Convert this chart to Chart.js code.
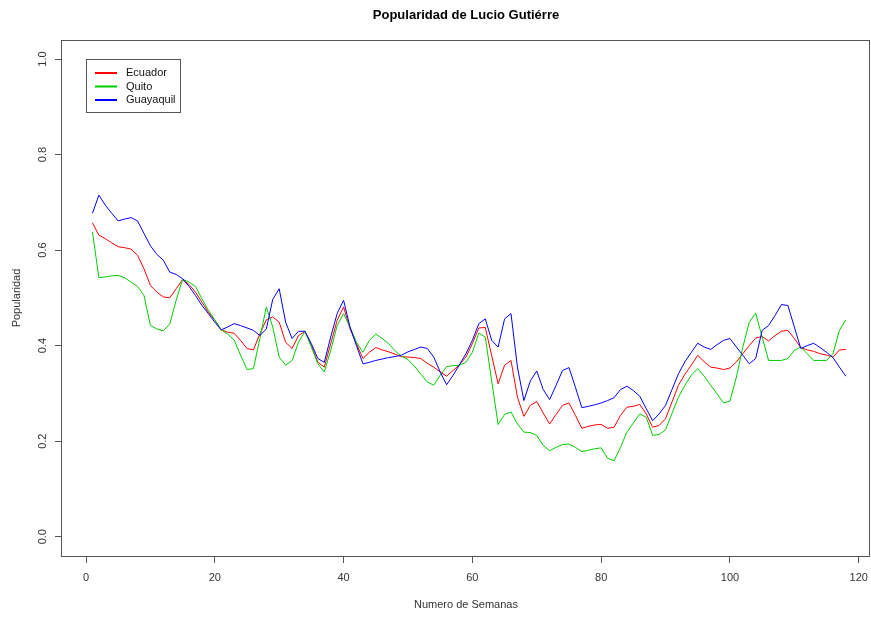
<!DOCTYPE html>
<html>
<head>
<meta charset="utf-8">
<title>Popularidad de Lucio Gutiérre</title>
<script src="https://cdn.jsdelivr.net/npm/chart.js@4.4.1/dist/chart.umd.min.js"></script>
<style>
  html, body { margin: 0; padding: 0; background: #fff; }
  #grafico { display: block; }
</style>
</head>
<body>
<canvas id="grafico" width="871" height="617"></canvas>
<script>
const titulo = 'Popularidad de Lucio Gutiérre';
const tituloX = 'Numero de Semanas';
const tituloY = 'Popularidad';

const semanas = [
  1, 2, 3, 4, 5, 6, 7, 8, 9, 10, 11, 12, 13, 14, 15, 16, 17, 18, 19, 20,
  21, 22, 23, 24, 25, 26, 27, 28, 29, 30, 31, 32, 33, 34, 35, 36, 37, 38, 39, 40,
  41, 42, 43, 44, 45, 46, 47, 48, 49, 50, 51, 52, 53, 54, 55, 56, 57, 58, 59, 60,
  61, 62, 63, 64, 65, 66, 67, 68, 69, 70, 71, 72, 73, 74, 75, 76, 77, 78, 79, 80,
  81, 82, 83, 84, 85, 86, 87, 88, 89, 90, 91, 92, 93, 94, 95, 96, 97, 98, 99, 100,
  101, 102, 103, 104, 105, 106, 107, 108, 109, 110, 111, 112, 113, 114, 115, 116, 117, 118
];

const ecuador = [
  0.657, 0.631, 0.624, 0.615, 0.607, 0.605, 0.602, 0.589, 0.561, 0.526,
  0.512, 0.502, 0.500, 0.519, 0.538, 0.528, 0.512, 0.491, 0.470, 0.453,
  0.433, 0.428, 0.426, 0.411, 0.394, 0.391, 0.425, 0.454, 0.460, 0.449,
  0.407, 0.394, 0.421, 0.430, 0.400, 0.365, 0.355, 0.404, 0.453, 0.481,
  0.435, 0.404, 0.373, 0.386, 0.396, 0.391, 0.387, 0.382, 0.377, 0.376,
  0.375, 0.373, 0.363, 0.355, 0.345, 0.336, 0.348, 0.360, 0.376, 0.404,
  0.437, 0.438, 0.379, 0.320, 0.359, 0.369, 0.292, 0.252, 0.275, 0.283,
  0.259, 0.236, 0.256, 0.275, 0.280, 0.254, 0.227, 0.231, 0.234, 0.235,
  0.227, 0.229, 0.254, 0.271, 0.273, 0.277, 0.257, 0.229, 0.233, 0.247,
  0.282, 0.317, 0.340, 0.359, 0.380, 0.366, 0.355, 0.353, 0.350, 0.353,
  0.366, 0.383, 0.400, 0.416, 0.419, 0.410, 0.421, 0.430, 0.432, 0.415,
  0.396, 0.391, 0.388, 0.383, 0.380, 0.376, 0.391, 0.392
];

const quito = [
  0.638, 0.542, 0.544, 0.546, 0.547, 0.542, 0.533, 0.524, 0.505, 0.442,
  0.435, 0.431, 0.445, 0.495, 0.539, 0.533, 0.524, 0.498, 0.474, 0.454,
  0.433, 0.424, 0.412, 0.380, 0.350, 0.352, 0.415, 0.481, 0.439, 0.376,
  0.359, 0.369, 0.407, 0.430, 0.397, 0.362, 0.345, 0.390, 0.442, 0.467,
  0.439, 0.407, 0.386, 0.411, 0.424, 0.415, 0.404, 0.389, 0.378, 0.371,
  0.357, 0.340, 0.324, 0.317, 0.338, 0.356, 0.358, 0.359, 0.365, 0.386,
  0.426, 0.418, 0.326, 0.235, 0.256, 0.261, 0.236, 0.219, 0.218, 0.212,
  0.191, 0.180, 0.187, 0.193, 0.194, 0.187, 0.178, 0.181, 0.184, 0.186,
  0.164, 0.159, 0.187, 0.219, 0.238, 0.257, 0.250, 0.212, 0.214, 0.224,
  0.258, 0.292, 0.317, 0.338, 0.352, 0.336, 0.317, 0.299, 0.280, 0.284,
  0.334, 0.397, 0.449, 0.468, 0.418, 0.369, 0.369, 0.369, 0.373, 0.390,
  0.397, 0.383, 0.369, 0.369, 0.369, 0.383, 0.432, 0.454
];

const guayaquil = [
  0.677, 0.715, 0.694, 0.677, 0.661, 0.665, 0.668, 0.661, 0.635, 0.609,
  0.591, 0.579, 0.554, 0.549, 0.540, 0.524, 0.505, 0.484, 0.467, 0.449,
  0.433, 0.439, 0.446, 0.442, 0.437, 0.432, 0.421, 0.435, 0.497, 0.519,
  0.449, 0.415, 0.430, 0.430, 0.404, 0.373, 0.365, 0.418, 0.467, 0.495,
  0.439, 0.400, 0.362, 0.365, 0.369, 0.372, 0.375, 0.377, 0.380, 0.387,
  0.392, 0.397, 0.394, 0.376, 0.345, 0.318, 0.338, 0.360, 0.383, 0.411,
  0.446, 0.456, 0.411, 0.397, 0.456, 0.467, 0.355, 0.285, 0.326, 0.347,
  0.308, 0.287, 0.317, 0.348, 0.354, 0.313, 0.270, 0.273, 0.276, 0.280,
  0.285, 0.291, 0.308, 0.315, 0.306, 0.294, 0.268, 0.243, 0.257, 0.275,
  0.308, 0.341, 0.366, 0.386, 0.405, 0.397, 0.392, 0.402, 0.411, 0.415,
  0.397, 0.380, 0.362, 0.373, 0.432, 0.442, 0.463, 0.486, 0.484, 0.439,
  0.394, 0.400, 0.405, 0.396, 0.386, 0.375, 0.355, 0.336
];

const ticksX = [0, 20, 40, 60, 80, 100, 120];
const ticksY = [0, 0.2, 0.4, 0.6, 0.8, 1.0];

const fuente = '"Liberation Sans", Arial, sans-serif';
const gris = '#555555';

function puntos(valores) {
  return semanas.map((s, i) => ({ x: s, y: valores[i] }));
}

// caja, titulos y leyenda dibujados a mano, como en un plot() de R
const marcoR = {
  id: 'marcoR',
  afterDraw(chart) {
    const { ctx, chartArea: a } = chart;
    ctx.save();

    ctx.strokeStyle = gris;
    ctx.lineWidth = 1;
    ctx.strokeRect(a.left - 0.5, a.top + 0.5, a.right - a.left, a.bottom - a.top);

    ctx.fillStyle = '#000';
    ctx.font = 'bold 13px ' + fuente;
    ctx.textAlign = 'center';
    ctx.textBaseline = 'alphabetic';
    ctx.fillText(titulo, (a.left + a.right) / 2, 19);

    ctx.fillStyle = '#333';
    ctx.font = '11px ' + fuente;
    ctx.textBaseline = 'middle';
    ctx.fillText(tituloX, (a.left + a.right) / 2, 605);

    ctx.save();
    ctx.translate(17, (a.top + a.bottom) / 2);
    ctx.rotate(-Math.PI / 2);
    ctx.fillText(tituloY, 0, 0);
    ctx.restore();

    // leyenda
    const lx = 86, ly = 59;
    ctx.strokeStyle = gris;
    ctx.strokeRect(lx + 0.5, ly + 0.5, 94, 53);
    ctx.font = '11px ' + fuente;
    ctx.textAlign = 'left';
    chart.data.datasets.forEach((ds, i) => {
      const y = ly + 14 + i * 13.5;
      ctx.strokeStyle = ds.borderColor;
      ctx.lineWidth = 2;
      ctx.beginPath();
      ctx.moveTo(lx + 9, y);
      ctx.lineTo(lx + 31, y);
      ctx.stroke();
      ctx.fillStyle = '#111';
      ctx.fillText(ds.label, lx + 40, y);
    });

    ctx.restore();
  }
};

const ejes = (ticks) => ({
  type: 'linear',
  afterBuildTicks: (scale) => {
    scale.ticks = ticks.map(v => ({ value: v }));
  },
  grid: {
    drawOnChartArea: false,
    drawTicks: true,
    tickLength: 7,
    color: gris,
    tickColor: gris
  },
  border: { display: false }
});

const ejeX = ejes(ticksX);
ejeX.min = -3.73;
ejeX.max = 121.75;
ejeX.ticks = {
  color: '#333',
  font: { family: fuente, size: 11 },
  padding: 8,
  maxRotation: 0,
  minRotation: 0
};
ejeX.afterFit = (scale) => {
  scale.height = 61;
  scale.paddingLeft = 0;
  scale.paddingRight = 0;
};

const ejeY = ejes(ticksY);
ejeY.min = -0.0404;
ejeY.max = 1.0398;
ejeY.ticks = {
  color: '#333',
  font: { family: fuente, size: 11 },
  padding: 4,
  minRotation: 90,
  maxRotation: 90,
  crossAlign: 'center',
  callback: (v) => v.toFixed(1)
};
ejeY.afterFit = (scale) => {
  scale.width = 62;
  scale.paddingTop = 0;
  scale.paddingBottom = 0;
};

new Chart(document.getElementById('grafico'), {
  type: 'line',
  data: {
    datasets: [
      { label: 'Ecuador', data: puntos(ecuador), borderColor: '#ff0000', order: 3 },
      { label: 'Quito', data: puntos(quito), borderColor: '#00cd00', order: 2 },
      { label: 'Guayaquil', data: puntos(guayaquil), borderColor: '#0000ff', order: 1 }
    ]
  },
  options: {
    responsive: false,
    animation: false,
    devicePixelRatio: 1,
    layout: { padding: { top: 40, right: 1, left: 0, bottom: 0 } },
    elements: {
      line: { borderWidth: 1, tension: 0, fill: false },
      point: { radius: 0, hoverRadius: 0 }
    },
    scales: { x: ejeX, y: ejeY },
    plugins: {
      legend: { display: false },
      title: { display: false },
      tooltip: { enabled: false }
    }
  },
  plugins: [marcoR]
});
</script>
</body>
</html>
